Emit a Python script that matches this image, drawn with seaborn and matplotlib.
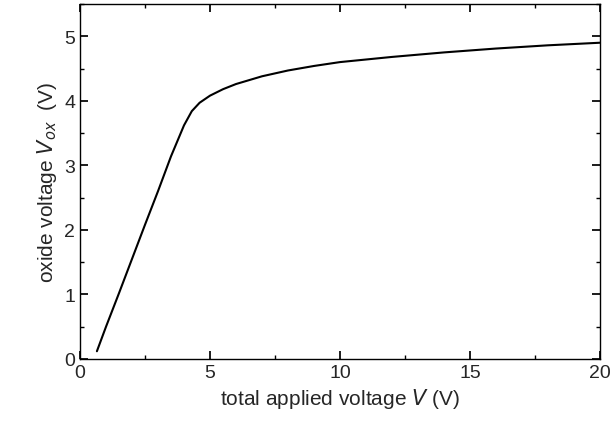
import matplotlib
matplotlib.use("Agg")
import matplotlib.pyplot as plt
import seaborn as sns
import numpy as np
from matplotlib.ticker import MultipleLocator

sns.set_theme(style="ticks")
plt.rcParams['font.family'] = ['Liberation Sans', 'DejaVu Sans']

V = [0.65, 1.0, 1.5, 2.0, 2.5, 3.0, 3.5, 4.0, 4.3, 4.6, 5.0, 5.5, 6.0, 7.0, 8.0, 9.0, 10.0, 12.0, 14.0, 16.0, 18.0, 20.0]
Vox = [0.12, 0.5, 1.02, 1.55, 2.08, 2.6, 3.14, 3.62, 3.84, 3.97, 4.08, 4.18, 4.26, 4.38, 4.47, 4.54, 4.6, 4.68, 4.75, 4.81, 4.86, 4.9]

fig = plt.figure(figsize=(6.12, 4.31), dpi=100)
ax = fig.add_axes([80/612, 1-360/431, 520/612, 355/431])
sns.lineplot(x=V, y=Vox, ax=ax, color='black', lw=1.5)
ax.set_xlim(0, 20)
ax.set_ylim(0, 5.5)
ax.xaxis.set_major_locator(MultipleLocator(5))
ax.xaxis.set_minor_locator(MultipleLocator(2.5))
ax.yaxis.set_major_locator(MultipleLocator(1))
ax.yaxis.set_minor_locator(MultipleLocator(0.5))
ax.tick_params(which='both', direction='in', top=True, right=True, labelsize=14, color='black')
ax.tick_params(which='major', length=6)
ax.tick_params(which='minor', length=3)
for s in ax.spines.values():
    s.set_color('black'); s.set_linewidth(1)
ax.set_xlabel('total applied voltage $\\mathit{V}$ (V)', fontsize=15)
ax.set_ylabel('oxide voltage $\\mathit{V}_{ox}$  (V)', fontsize=15)
fig.savefig('out.png', dpi=100)
